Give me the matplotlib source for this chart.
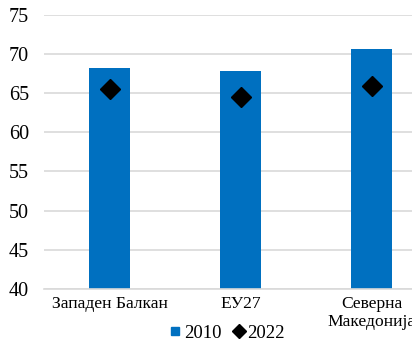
import numpy as np
from matplotlib import pyplot as plt

categories = ['Западен Балкан', 'ЕУ27', 'Северна\nМакедонија']
values_2010 = [68.2, 67.8, 70.6]
values_2022 = [65.5, 64.5, 65.9]
yticks = [40, 45, 50, 55, 60, 65, 70, 75]

plt.rcParams['font.family'] = ['Liberation Serif', 'DejaVu Serif']

fig = plt.figure(figsize=(4.12, 3.46), dpi=100)
ax = fig.add_axes([0.107, 0.165, 0.954, 0.792])

x = np.arange(len(categories))
ax.bar(x, np.array(values_2010) - 40, 0.315, bottom=40, color='#0070c0',
       zorder=2, label='2010')
ax.plot(x, values_2022, linestyle='none', marker='D', markersize=10,
        color='black', zorder=3, label='2022')

ax.set_xlim(-0.5, 2.5)
ax.set_ylim(40, 75)
ax.set_yticks(yticks)
ax.set_xticks(x)
ax.set_xticklabels(categories, fontsize=12.6)
ax.tick_params(axis='y', labelsize=14.5, length=0, pad=11)
ax.tick_params(axis='x', length=0, pad=5)
ax.grid(axis='y', color='#d9d9d9', linewidth=1.2, zorder=0)
for side in ['left', 'right', 'top']:
    ax.spines[side].set_visible(False)
ax.spines['bottom'].set_color('#d9d9d9')
ax.spines['bottom'].set_linewidth(1.2)

handles = [
    plt.Line2D([], [], linestyle='none', marker='s', markersize=6, color='#0070c0'),
    plt.Line2D([], [], linestyle='none', marker='D', markersize=7, color='black'),
]
fig.legend(handles, ['2010', '2022'], loc='center', ncol=2, frameon=False,
           bbox_to_anchor=(226 / 412, 1 - 333 / 346), fontsize=13.5,
           handletextpad=0.0, columnspacing=0.5, handlelength=0.9)

fig.savefig('out.png', dpi=100)
